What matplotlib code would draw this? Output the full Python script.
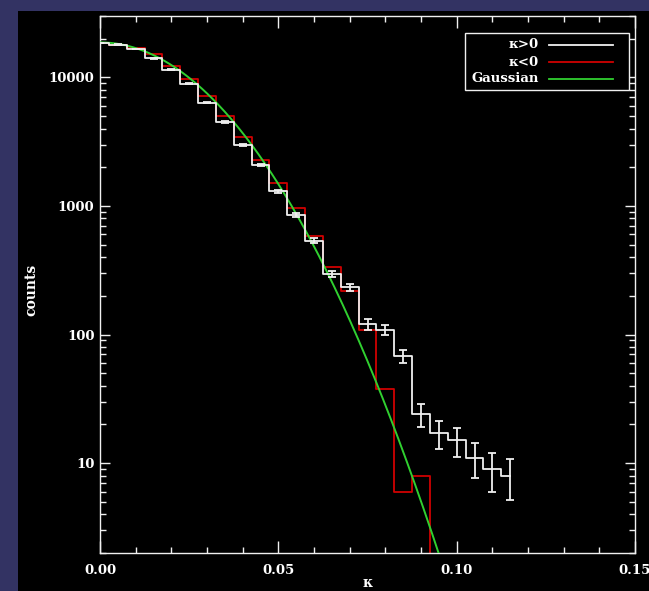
import numpy as np
import matplotlib
matplotlib.use("Agg")
import matplotlib.pyplot as plt
from matplotlib.patches import Rectangle
from matplotlib.ticker import LogLocator, MultipleLocator, NullFormatter

# ── DATA ──────────────────────────────────────────────────────────────────────

# bin centres (|kappa|) and counts
kappa_pos = [0.000, 0.005, 0.010, 0.015, 0.020, 0.025, 0.030, 0.035, 0.040, 0.045,
             0.050, 0.055, 0.060, 0.065, 0.070, 0.075, 0.080, 0.085, 0.090, 0.095,
             0.100, 0.105, 0.110, 0.115]
counts_pos = [18500, 17900, 16600, 14060, 11500, 8900, 6350, 4500, 3000, 2085,
              1305, 850, 536, 295, 233, 120, 109, 68, 24, 17,
              15, 11, 9, 8]

kappa_neg = [0.000, 0.005, 0.010, 0.015, 0.020, 0.025, 0.030, 0.035, 0.040, 0.045,
             0.050, 0.055, 0.060, 0.065, 0.070, 0.075, 0.080, 0.085, 0.090, 0.095]
counts_neg = [18600, 17950, 16800, 15300, 12300, 9700, 7100, 5000, 3450, 2290,
              1510, 957, 586, 335, 219, 108, 38, 6, 8, 1]

# fitted Gaussian (amplitude, width)
GAUSS_AMP = 18700
GAUSS_SIGMA = 0.0222

X_TICKS = [0.00, 0.05, 0.10, 0.15]
X_TICKLABELS = ["0.00", "0.05", "0.10", "0.15"]
Y_TICKS = [10, 100, 1000, 10000]
Y_TICKLABELS = ["10", "100", "1000", "10000"]

LEGEND_LABELS = ["κ>0", "κ<0", "Gaussian"]

# ── STYLE ─────────────────────────────────────────────────────────────────────

BG_BLUE = "#333363"
WHITE = "#f0f0f0"
RED = "#d00000"
GREEN = "#30d030"
FONT = dict(family="DejaVu Serif", weight="bold", size=9.5, color="white")

W, H = 649, 591
AX_L, AX_R, AX_T, AX_B = 100, 635, 16, 553   # axes box in pixels


def px_to_axes(px, py):
    # pixel position (from top-left) -> axes fraction
    return (px - AX_L) / (AX_R - AX_L), (AX_B - py) / (AX_B - AX_T)


# ── FIGURE ────────────────────────────────────────────────────────────────────

fig = plt.figure(figsize=(W / 100, H / 100), dpi=100, facecolor=BG_BLUE)
fig.add_artist(Rectangle((17.5 / W, 0), 1, 1 - 11 / H, transform=fig.transFigure,
                         facecolor="black", edgecolor="none", zorder=0))

ax = fig.add_axes([AX_L / W, 1 - AX_B / H, (AX_R - AX_L) / W, (AX_B - AX_T) / H])
ax.set_facecolor("black")

# histograms
ax.step(kappa_neg, counts_neg, where="mid", color=RED, lw=1.3, zorder=2)

gx = np.linspace(0, 0.15, 400)
gy = GAUSS_AMP * np.exp(-gx ** 2 / (2 * GAUSS_SIGMA ** 2))
ax.plot(gx, gy, color=GREEN, lw=1.4, zorder=3)

ax.step(kappa_pos, counts_pos, where="mid", color=WHITE, lw=1.3, zorder=4)
ax.errorbar(kappa_pos, counts_pos, yerr=np.sqrt(counts_pos), fmt="none",
            ecolor=WHITE, elinewidth=1.3, capsize=2.8, capthick=1.3, zorder=4)

ax.set_yscale("log")
ax.set_xlim(0, 0.15)
ax.set_ylim(2, 3e4)

# ticks
ax.set_xticks(X_TICKS)
ax.set_xticklabels(X_TICKLABELS, fontdict=FONT)
ax.xaxis.set_minor_locator(MultipleLocator(0.01))
ax.set_yticks(Y_TICKS)
ax.set_yticklabels(Y_TICKLABELS, fontdict=FONT)
ax.yaxis.set_minor_locator(LogLocator(base=10, subs=range(2, 10)))
ax.yaxis.set_minor_formatter(NullFormatter())

ax.tick_params(which="both", direction="in", top=True, right=True,
               color=WHITE, labelcolor="white", width=1)
ax.tick_params(axis="x", which="major", length=8.5, pad=8)
ax.tick_params(axis="x", which="minor", length=4.5)
ax.tick_params(axis="y", which="major", length=7, pad=4)
ax.tick_params(axis="y", which="minor", length=4)

for s in ax.spines.values():
    s.set_color(WHITE)
    s.set_linewidth(1)

ax.set_ylabel("counts", fontdict=dict(FONT, size=10))
ax.yaxis.set_label_coords(px_to_axes(38, 0)[0], 0.49)
ax.set_xlabel("κ", fontdict=dict(FONT, size=10), va="bottom")
ax.xaxis.set_label_coords(0.5, px_to_axes(0, 590)[1])

# ── LEGEND (IDL style: label right-aligned, line sample on the right) ─────────

bx0, by0 = px_to_axes(465, 90)
bx1, by1 = px_to_axes(629, 33)
ax.add_patch(Rectangle((bx0, by0), bx1 - bx0, by1 - by0, transform=ax.transAxes,
                       facecolor="black", edgecolor=WHITE, lw=1, zorder=5))
leg_colors = [WHITE, RED, GREEN]
for i, (lab, col) in enumerate(zip(LEGEND_LABELS, leg_colors)):
    row_y = 45 + i * 17
    tx, ty = px_to_axes(539, row_y)
    ax.text(tx, ty, lab, transform=ax.transAxes, ha="right", va="center",
            zorder=6, **FONT)
    lx0, ly = px_to_axes(549, row_y)
    lx1, _ = px_to_axes(613, row_y)
    ax.plot([lx0, lx1], [ly, ly], transform=ax.transAxes, color=col, lw=1.3,
            zorder=6, clip_on=False)

fig.savefig("out.png", dpi=100, facecolor=BG_BLUE)
